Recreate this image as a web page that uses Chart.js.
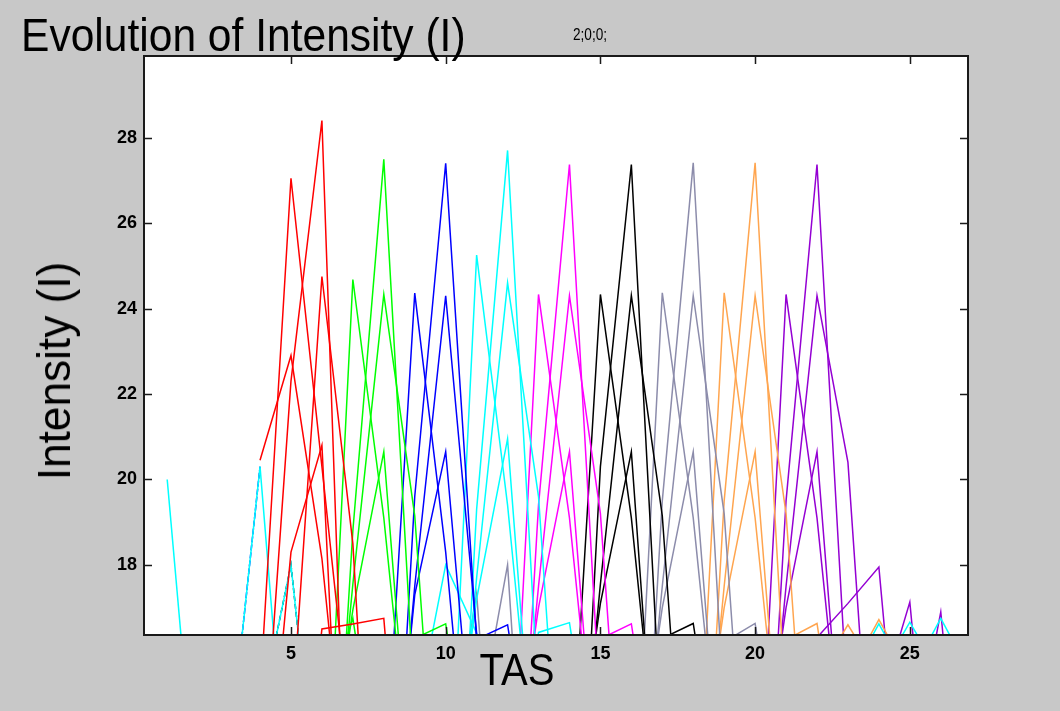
<!DOCTYPE html>
<html>
<head>
<meta charset="utf-8">
<script src="https://cdn.jsdelivr.net/npm/chart.js@4/dist/chart.umd.min.js"></script>
<style>
  html, body { margin: 0; padding: 0; background: #c8c8c8; }
  #wrap { position: relative; width: 1060px; height: 711px; overflow: hidden; font-family: "Liberation Sans", Arial, sans-serif; }
  #wrap canvas { position: absolute; left: 0; top: 0; }
  .lbl { position: absolute; white-space: nowrap; line-height: 1; color: #000; }
  #title { left: 21px; top: 12px; font-size: 46px; transform: scaleX(0.925); transform-origin: left center; }
  #note { left: 573px; top: 27px; font-size: 16px; transform: scaleX(0.85); transform-origin: left center; }
  #xTitle { left: 517px; top: 647px; font-size: 45px; transform: translateX(-50%) scaleX(0.89); }
  #yTitle { left: 53.5px; top: 371px; font-size: 46px; transform: translate(-50%, -50%) rotate(-90deg) scaleX(0.96); }
</style>
</head>
<body>
<div id="wrap">
  <canvas id="intensityChart" width="1060" height="711"></canvas>
  <div class="lbl" id="title">Evolution of Intensity (I)</div>
  <div class="lbl" id="note">2;0;0;</div>
  <div class="lbl" id="yTitle">Intensity (I)</div>
  <div class="lbl" id="xTitle">TAS</div>
</div>
<script>
// axis ticks
const xTicks = [5, 10, 15, 20, 25];
const yTicks = [18, 20, 22, 24, 26, 28];

// each line is a list of [TAS, I] points; values under the axis floor get clipped
const cyanLines = [
  [[1, 20.0], [2, 11.8]],
  [[3, 13.5], [4, 20.3], [5, 11.4]],
  [[4, 14.5], [5, 18.0], [6, 11.2]],
  [[9, 14.3], [10, 18.0], [11, 16.4], [12, 12.0]],
  [[10, 6.0], [11, 19.3], [12, 27.7], [13, 14.8], [14, 6.0]],
  [[10, 10.5], [11, 25.25], [12, 19.4], [13, 12.0]],
  [[10, 10.0], [11, 17.7], [12, 24.6], [13, 19.6], [14, 9.0]],
  [[10, 12.0], [11, 17.2], [12, 20.95], [13, 11.5]],
  [[12, 12.0], [13, 16.42], [14, 16.65], [15, 12.0]],
  [[23, 15.3], [24, 16.62], [25, 15.3]],
  [[24, 15.4], [25, 16.66], [26, 15.4]],
  [[25, 15.4], [26, 16.75], [27, 15.4]],
];
// blue and black traces that run on top of the two early cyan peaks
const dashedBlue = [
  [[3, 13.5], [4, 20.3]],
];
const dashedBlack = [
  [[4, 14.5], [5, 18.0], [6, 11.2]],
];
const redLines = [
  [[4, 20.45], [5, 22.9], [6, 18.15], [7, 11.0]],
  [[4, 12.0], [5, 22.3], [6, 28.4], [7, 7.4]],
  [[4, 15.0], [5, 27.05], [6, 20.3], [7, 13.5]],
  [[5, 14.15], [6, 24.75], [7, 18.5], [8, 6.0]],
  [[4, 10.6], [5, 18.3], [6, 20.8], [7, 6.0]],
  [[5, 10.0], [6, 16.5], [7, 16.62], [8, 16.75], [9, 8.0]],
];
const greenLines = [
  [[6, 7.0], [7, 18.8], [8, 27.49], [9, 14.6], [10, 6.0]],
  [[6, 10.1], [7, 24.68], [8, 19.1], [9, 12.0]],
  [[6, 10.0], [7, 17.55], [8, 24.33], [9, 19.15], [10, 9.0]],
  [[6, 12.0], [7, 16.95], [8, 20.65], [9, 11.5]],
  [[6, 14.5], [7, 16.75], [8, 12.0]],
  [[8, 12.0], [9, 16.28], [10, 16.62], [11, 12.0]],
];
const blueLines = [
  [[8, 7.0], [9, 19.6], [10, 27.4], [11, 16.2], [12, 8.5]],
  [[8, 12.4], [9, 24.36], [10, 18.3], [11, 10.5]],
  [[8, 9.5], [9, 17.5], [10, 24.3], [11, 16.4], [12, 9.0]],
  [[8, 10.0], [9, 17.3], [10, 20.65], [11, 12.5]],
  [[10, 12.0], [11, 16.26], [12, 16.6], [13, 12.0]],
];
const magentaLines = [
  [[12, 7.0], [13, 19.4], [14, 27.37], [15, 14.5], [16, 6.0]],
  [[12, 10.5], [13, 24.33], [14, 19.1], [15, 12.0]],
  [[12, 10.0], [13, 17.5], [14, 24.3], [15, 19.2], [16, 9.0]],
  [[12, 12.0], [13, 17.0], [14, 20.65], [15, 11.5]],
  [[14, 12.0], [15, 16.27], [16, 16.62], [17, 12.0]],
];
const blackLines = [
  [[14, 6.7], [15, 20.3], [16, 27.37], [17, 13.6], [18, 6.0]],
  [[14, 12.3], [15, 24.33], [16, 19.1], [17, 12.0]],
  [[14, 10.0], [15, 17.55], [16, 24.3], [17, 19.15], [18, 9.0]],
  [[14, 12.0], [15, 17.1], [16, 20.65], [17, 10.6]],
  [[16, 12.0], [17, 16.28], [18, 16.63], [19, 12.0]],
];
const grayLines = [
  [[10, 12.9], [11, 17.33], [12, 7.7]],
  [[11, 14.0], [12, 18.0], [13, 7.0]],
  [[16, 7.0], [17, 19.5], [18, 27.41], [19, 14.5], [20, 6.0]],
  [[16, 10.5], [17, 24.37], [18, 19.1], [19, 12.0]],
  [[16, 10.0], [17, 17.5], [18, 24.3], [19, 19.2], [20, 9.0]],
  [[16, 12.0], [17, 17.0], [18, 20.65], [19, 11.5]],
  [[18, 12.0], [19, 16.2], [20, 16.63], [21, 12.0]],
];
const orangeLines = [
  [[18, 7.0], [19, 19.5], [20, 27.41], [21, 14.5], [22, 6.0]],
  [[18, 10.5], [19, 24.37], [20, 19.1], [21, 12.0]],
  [[18, 10.0], [19, 17.5], [20, 24.3], [21, 19.2], [22, 9.0]],
  [[18, 12.0], [19, 17.0], [20, 20.65], [21, 11.5]],
  [[20, 12.0], [21, 16.25], [22, 16.63], [23, 12.0]],
  [[22, 15.4], [23, 16.6], [24, 15.4]],
  [[23, 15.4], [24, 16.72], [25, 15.4]],
];
const purpleLines = [
  [[20, 7.0], [21, 19.5], [22, 27.37], [23, 14.5], [24, 6.0]],
  [[20, 10.5], [21, 24.33], [22, 19.1], [23, 12.0]],
  [[20, 10.0], [21, 17.5], [22, 24.3], [23, 20.4], [24, 9.9]],
  [[20, 12.0], [21, 17.0], [22, 20.65], [23, 11.5]],
  [[21, 12.0], [22, 16.3], [23, 17.1], [24, 17.95], [25, 10.0]],
  [[24, 14.7], [25, 17.13], [26, 9.5]],
  [[25, 13.1], [26, 16.9], [27, 9.4]],
];

const datasets = [];
function addLines(lines, color, dash) {
  lines.forEach(pts => {
    datasets.push({
      data: pts.map(([x, y]) => ({ x, y })),
      borderColor: color,
      borderWidth: 1.5,
      borderDash: dash || [],
      pointRadius: 0,
      tension: 0,
      fill: false,
      clip: 0,
    });
  });
}
addLines(redLines, '#ff0000');
addLines(greenLines, '#00ff00');
addLines(blueLines, '#0000ff');
addLines(cyanLines, '#00ffff');
addLines(magentaLines, '#ff00ff');
addLines(blackLines, '#000000');
addLines(grayLines, '#8c8cab');
addLines(orangeLines, '#ffa54f');
addLines(purpleLines, '#9400d3');
addLines(dashedBlue, '#0000ff', [6, 2]);
addLines(dashedBlack, '#000000', [5, 3]);

// white plot box, black frame and inward tick marks on all four sides
const axesBox = {
  id: 'axesBox',
  beforeDraw(chart) {
    const { ctx, chartArea: a } = chart;
    ctx.save();
    ctx.fillStyle = '#ffffff';
    ctx.fillRect(a.left, a.top, a.width, a.height);
    ctx.restore();
  },
  afterDatasetsDraw(chart) {
    const { ctx, chartArea: a, scales } = chart;
    const len = 8;
    ctx.save();
    ctx.strokeStyle = '#1a1a1a';
    ctx.lineWidth = 1.5;
    ctx.beginPath();
    scales.x.ticks.forEach(t => {
      const px = Math.round(scales.x.getPixelForValue(t.value)) + 0.5;
      ctx.moveTo(px, a.top); ctx.lineTo(px, a.top + len);
      ctx.moveTo(px, a.bottom); ctx.lineTo(px, a.bottom - len);
    });
    scales.y.ticks.forEach(t => {
      const py = Math.round(scales.y.getPixelForValue(t.value)) + 0.5;
      ctx.moveTo(a.left, py); ctx.lineTo(a.left + len, py);
      ctx.moveTo(a.right, py); ctx.lineTo(a.right - len, py);
    });
    ctx.stroke();
    ctx.lineWidth = 2;
    ctx.strokeRect(a.left, a.top, a.width, a.height);
    ctx.restore();
  }
};

Chart.defaults.font.family = '"Liberation Sans", Arial, sans-serif';

new Chart(document.getElementById('intensityChart'), {
  type: 'line',
  data: { datasets },
  plugins: [axesBox],
  options: {
    responsive: false,
    animation: false,
    events: [],
    layout: { padding: { top: 56, right: 92, bottom: 0, left: 0 } },
    plugins: { legend: { display: false }, tooltip: { enabled: false } },
    scales: {
      x: {
        type: 'linear',
        min: 0.25,
        max: 26.88,
        grid: { display: false, drawTicks: false },
        border: { display: false },
        afterBuildTicks: s => { s.ticks = xTicks.map(value => ({ value })); },
        afterFit: s => { s.height = 76; },
        ticks: { color: '#000', padding: 8, maxRotation: 0, font: { size: 18, weight: 'bold' } },
      },
      y: {
        type: 'linear',
        min: 16.36,
        max: 29.91,
        grid: { display: false, drawTicks: false },
        border: { display: false },
        afterBuildTicks: s => { s.ticks = yTicks.map(value => ({ value })); },
        afterFit: s => { s.width = 144; },
        ticks: { color: '#000', padding: 7, font: { size: 18, weight: 'bold' } },
      },
    },
  },
});
</script>
</body>
</html>
